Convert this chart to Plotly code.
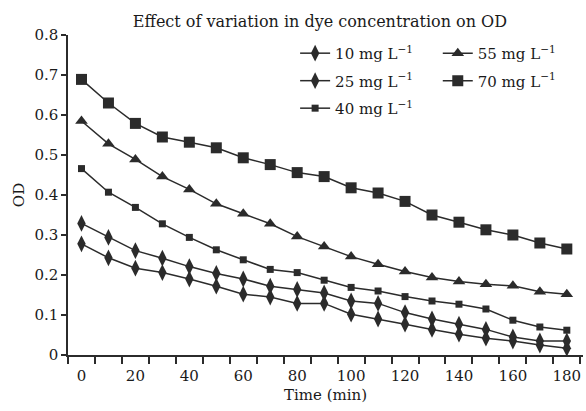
import plotly.graph_objects as go

time_min = [0, 10, 20, 30, 40, 50, 60, 70, 80, 90, 100, 110, 120, 130, 140, 150, 160, 170, 180]
od_10 = [0.278, 0.243, 0.217, 0.206, 0.190, 0.172, 0.152, 0.145, 0.129, 0.129, 0.102, 0.090, 0.077, 0.064, 0.052, 0.042, 0.035, 0.025, 0.017]
od_25 = [0.329, 0.294, 0.261, 0.242, 0.221, 0.204, 0.190, 0.172, 0.164, 0.155, 0.135, 0.129, 0.106, 0.090, 0.077, 0.064, 0.045, 0.035, 0.035]
od_40 = [0.466, 0.407, 0.369, 0.328, 0.294, 0.263, 0.238, 0.214, 0.206, 0.187, 0.169, 0.160, 0.146, 0.135, 0.127, 0.115, 0.087, 0.070, 0.062]
od_55 = [0.585, 0.528, 0.489, 0.446, 0.414, 0.378, 0.353, 0.328, 0.296, 0.271, 0.246, 0.227, 0.209, 0.194, 0.184, 0.177, 0.173, 0.158, 0.152]
od_70 = [0.689, 0.630, 0.579, 0.545, 0.532, 0.518, 0.493, 0.476, 0.456, 0.446, 0.418, 0.405, 0.384, 0.350, 0.332, 0.313, 0.300, 0.280, 0.265]

series_names = ["10 mg L<sup>−1</sup>", "25 mg L<sup>−1</sup>", "40 mg L<sup>−1</sup>",
                "55 mg L<sup>−1</sup>", "70 mg L<sup>−1</sup>"]
x_tick_vals = [0, 20, 40, 60, 80, 100, 120, 140, 160, 180]
y_tick_vals = [0, 0.1, 0.2, 0.3, 0.4, 0.5, 0.6, 0.7, 0.8]
y_tick_text = ["0", "0.1", "0.2", "0.3", "0.4", "0.5", "0.6", "0.7", "0.8"]

INK = "#2b2b2b"
TXT = "#1a1a1a"
FONT = "DejaVu Serif"

fig = go.Figure()
specs = [
    (od_10, series_names[0], "diamond-tall", 12, "legend"),
    (od_25, series_names[1], "diamond-tall", 12, "legend"),
    (od_40, series_names[2], "square", 7, "legend"),
    (od_55, series_names[3], "triangle-up", 11, "legend2"),
    (od_70, series_names[4], "square", 11, "legend2"),
]
for i, (vals, name, sym, size, lg) in enumerate(specs):
    fig.add_trace(go.Scatter(
        x=time_min, y=vals, name=name, mode="lines+markers",
        line=dict(color=INK, width=1.5),
        marker=dict(symbol=sym, size=size, color=INK),
        legend=lg, legendgroup=f"g{i}",
    ))

legend_common = dict(
    font=dict(family=FONT, size=15, color=TXT),
    bgcolor="rgba(0,0,0,0)", borderwidth=0,
    orientation="v", tracegroupgap=5,
    xanchor="left", yanchor="top",
    itemwidth=30,
)
fig.update_layout(
    width=586, height=411,
    margin=dict(l=68, r=3, t=35, b=56),
    paper_bgcolor="white", plot_bgcolor="white",
    font=dict(family=FONT, color=TXT),
    title=dict(text="Effect of variation in dye concentration on OD",
               font=dict(family=FONT, size=16, color=TXT),
               x=0.546, xanchor="center", y=0.949, yanchor="middle"),
    legend=dict(x=0.441, y=0.994, **legend_common),
    legend2=dict(x=0.718, y=0.994, **legend_common),
    showlegend=True,
)
fig.update_xaxes(
    range=[-5, 186], tickvals=x_tick_vals, ticks="",
    showline=True, linecolor=INK, linewidth=1.5, showgrid=False, zeroline=False,
    tickfont=dict(family=FONT, size=15, color=TXT),
    ticklabelstandoff=6,
    minor=dict(ticks="outside", tick0=5, dtick=10, ticklen=7, tickcolor=INK, tickwidth=1.5, showgrid=False),
    title=dict(text="Time (min)", font=dict(family=FONT, size=15, color=TXT), standoff=6),
)
fig.update_yaxes(
    range=[0, 0.8], tickvals=y_tick_vals, ticktext=y_tick_text,
    ticks="outside", ticklen=5, tickcolor=INK, tickwidth=1.5,
    showline=True, linecolor=INK, linewidth=1.5, showgrid=False, zeroline=False,
    tickfont=dict(family=FONT, size=15, color=TXT),
    title=dict(text="OD", font=dict(family=FONT, size=15, color=TXT), standoff=6),
)
fig.write_html(
    "out.html",
    config={"displayModeBar": False},
    post_script="document.documentElement.style.overflow='hidden';"
                "document.body.style.margin='0';document.body.style.overflow='hidden';",
)
